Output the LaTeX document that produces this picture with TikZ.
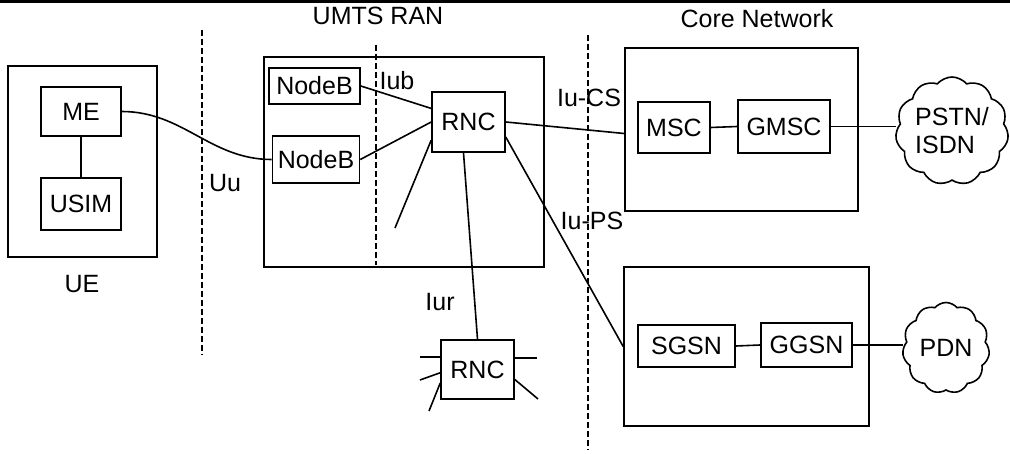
\documentclass[tikz,border=0pt]{standalone}
\usepackage{fontspec}
\setmainfont{Liberation Sans}
\usepackage{tikz}
\usetikzlibrary{
    shapes,
    calc,
    positioning
}
\tikzset{elem/.style={inner sep=0pt, rectangle, draw=black},
         dom/.style={inner sep=0pt, rectangle, draw=black},
         iface/.style={dash pattern=on 6pt off 3pt},
         cloudy/.style={cloud, cloud puffs=11, cloud puff arc=100, draw=black, inner sep=0pt}}

\begin{document}
\begin{tikzpicture}[x=1pt, y=-1pt, line width=1.6pt, font=\fontsize{25}{28}\selectfont]
                        \useasboundingbox (0, 0) rectangle (1010, 454);
                        \draw[line width=3pt] (0, 1.5) -- (1010, 1.5);

                        % UE
                        \node[dom, minimum width=149pt, minimum height=191pt] (ue) at (82.5, 161.5) {};
                        \node[elem, minimum width=80pt, minimum height=49pt] (me) at (81, 111.5) {ME};
                        \node[elem, minimum width=80pt, minimum height=52pt] (usim) at (81, 204) {USIM};
                        \node (uelbl) at (82, 284) {UE};

                        % UMTS RAN
                        \node[dom, minimum width=280pt, minimum height=210pt] (ran) at (404, 162) {};
                        \node (ranlbl) at (378, 16) {UMTS RAN};
                        \node[elem, minimum width=91pt, minimum height=36pt] (nb1) at (314.5, 86) {NodeB};
                        \node[elem, minimum width=87pt, minimum height=47pt] (nb2) at (316, 159.5) {NodeB};
                        \node[elem, minimum width=73pt, minimum height=60pt] (rnc) at (468.5, 122) {RNC};
                        \node[elem, minimum width=73pt, minimum height=59pt] (rnc2) at (477.5, 369.5) {RNC};

                        % Core Network
                        \node (cnlbl) at (757, 19) {Core Network};
                        \node[dom, minimum width=233pt, minimum height=163pt] (cncs) at (741.5, 129.5) {};
                        \node[elem, minimum width=72pt, minimum height=51pt] (msc) at (674, 127.5) {MSC};
                        \node[elem, minimum width=92pt, minimum height=53pt] (gmsc) at (784, 126.5) {GMSC};
                        \node[dom, minimum width=245pt, minimum height=159pt] (cnps) at (746.5, 346.5) {};
                        \node[elem, minimum width=97pt, minimum height=42pt] (sgsn) at (686.5, 346) {SGSN};
                        \node[elem, minimum width=91pt, minimum height=44pt] (ggsn) at (806.5, 345) {GGSN};

                        \node[cloudy, minimum width=113pt, minimum height=108pt] (pstn) at (952, 131) {};
                        \node[align=left] at (pstn) {PSTN/\\ISDN};
                        \node[cloudy, minimum width=87pt, minimum height=91pt] (pdn) at (946, 348) {};
                        \node at (pdn) {PDN};

                        % interfaces
                        \draw[iface] (202, 30) -- (202, 355);
                        \draw[iface] (376, 45) -- (376, 265);
                        \draw[iface] (588, 35) -- (588, 450);
                        \node (uu) at (225, 183) {Uu};
                        \node (iub) at (397, 81) {Iub};
                        \node (iucs) at (589, 98) {Iu-CS};
                        \node (iups) at (592, 221) {Iu-PS};
                        \node (iur) at (440, 302) {Iur};

                        \coordinate (s0) at (395, 228);
                        \coordinate (s1) at (420, 357);
                        \coordinate (s2) at (420, 380);
                        \coordinate (s3) at (429, 411);
                        \coordinate (s4) at (537, 358);
                        \coordinate (s5) at (538, 399);

                        \draw (me.east) to[out=0, in=180] (nb2.west);
                        \draw
                        (me) edge (usim)
                        (nb1.east) edge (rnc.160)
                        (nb2.east) edge (rnc.west)
                        (rnc.206) edge (s0)
                        ([xshift=-5pt]rnc.south) edge (rnc2.north)
                        (rnc.east) edge ([yshift=-4pt]cncs.west)
                        (rnc.-22) edge (cnps.west)
                        (msc.east) edge (gmsc.west)
                        (gmsc.east) edge (gmsc.east -| pstn.west)
                        (sgsn.east) edge (ggsn.west)
                        (ggsn.east) edge (ggsn.east -| pdn.west)
                        (rnc2.west |- s1) edge (s1)
                        (rnc2.185) edge (s2)
                        (rnc2.200) edge (s3)
                        (rnc2.east |- s4) edge (s4)
                        (rnc2.-15) edge (s5);
                    \end{tikzpicture}
\end{document}
